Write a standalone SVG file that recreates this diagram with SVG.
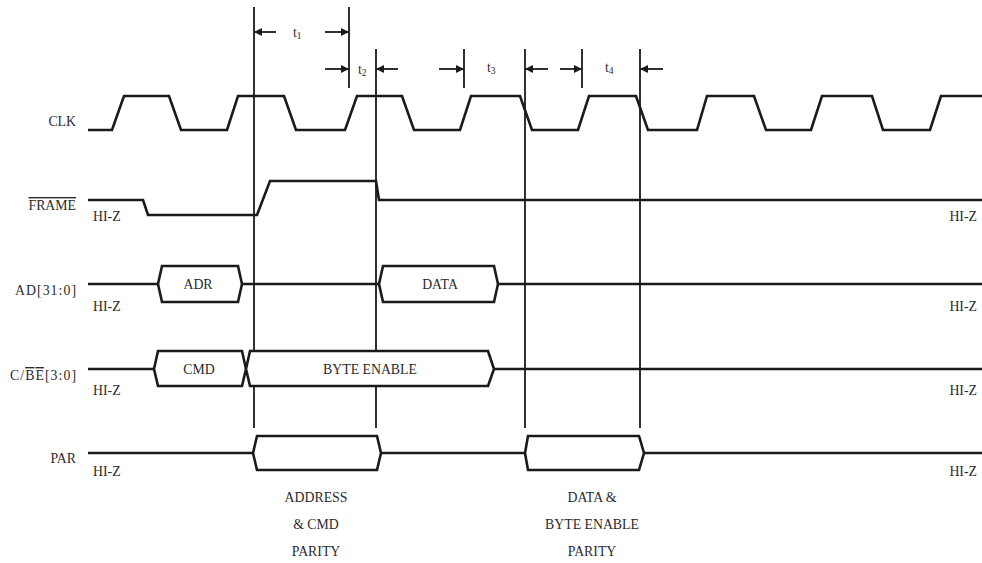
<svg xmlns="http://www.w3.org/2000/svg" width="982" height="563" viewBox="0 0 982 563">
<style>
.sig{fill:none;stroke:#1a1a1a;stroke-width:2.6;stroke-linejoin:miter}
.bus{fill:#fff;stroke:#1a1a1a;stroke-width:2.6;stroke-linejoin:miter}
.vl{stroke:#1a1a1a;stroke-width:1.8;fill:none}
.ar{stroke:#1a1a1a;stroke-width:1.8;fill:none;marker-end:url(#ah)}
text{font-family:"Liberation Serif","DejaVu Serif",serif;fill:#2b2b2b;font-size:13.8px}
.r{text-anchor:end}
.m{text-anchor:middle}
.ov{text-decoration:overline}
</style>
<defs>
<marker id="ah" viewBox="0 0 10 10" refX="10" refY="5" markerWidth="9" markerHeight="8" markerUnits="userSpaceOnUse" orient="auto">
<path d="M0,0 L10,5 L0,10 z" fill="#1a1a1a"/>
</marker>
</defs>
<rect width="982" height="563" fill="#fff"/>

<g id="connectors">
<line class="vl" x1="254" y1="7" x2="254" y2="428"/>
<line class="vl" x1="349" y1="7" x2="349" y2="88"/>
<line class="vl" x1="376" y1="49" x2="376" y2="428"/>
<line class="vl" x1="464" y1="49" x2="464" y2="88"/>
<line class="vl" x1="525" y1="49" x2="525" y2="428"/>
<line class="vl" x1="582" y1="49" x2="582" y2="88"/>
<line class="vl" x1="640" y1="49" x2="640" y2="428"/>
<line class="ar" x1="276" y1="32" x2="254" y2="32"/>
<line class="ar" x1="325" y1="32" x2="349" y2="32"/>
<line class="ar" x1="325" y1="69" x2="349" y2="69"/>
<line class="ar" x1="398" y1="69" x2="376" y2="69"/>
<line class="ar" x1="439" y1="69" x2="464" y2="69"/>
<line class="ar" x1="548" y1="69" x2="525" y2="69"/>
<line class="ar" x1="560" y1="69" x2="582" y2="69"/>
<line class="ar" x1="663" y1="69" x2="640" y2="69"/>
</g>

<g id="timing-labels">
<text x="293" y="37" font-size="14.5">t<tspan font-size="9.5" dy="2">1</tspan></text>
<text x="358" y="74" font-size="14.5">t<tspan font-size="9.5" dy="2">2</tspan></text>
<text x="487" y="72" font-size="14.5">t<tspan font-size="9.5" dy="2">3</tspan></text>
<text x="605" y="72" font-size="14.5">t<tspan font-size="9.5" dy="2">4</tspan></text>
</g>

<g id="clk">
<text class="r" x="76" y="126">CLK</text>
<path class="sig" d="M88,130 H112 L124,96 H169 L181,130 H227 L238,96 H284 L296,130 H345 L357,96 H402 L414,130 H460 L471,96 H520 L532,130 H578 L589,96 H636 L648,130 H697 L707,96 H754 L766,130 H811 L822,96 H872 L883,130 H930 L941,96 H982"/>
</g>

<g id="frame">
<text class="r" x="76" y="210"><tspan class="ov">FRAME</tspan></text>
<text x="93" y="221">HI-Z</text>
<text class="r" x="977" y="221">HI-Z</text>
<path class="sig" d="M88,200 H143 L148,215 H257 L270,181 H376 L379,200 H982"/>
</g>

<g id="ad">
<text class="r" x="76" y="295" textLength="61" lengthAdjust="spacing">AD[31:0]</text>
<text x="93" y="311">HI-Z</text>
<text class="r" x="977" y="311">HI-Z</text>
<path class="sig" d="M88,284 H158 M242,284 H379 M498,284 H982"/>
<path class="bus" d="M158,284 L162,266 H238 L242,284 L238,302 H162 Z"/>
<text class="m" x="198" y="289">ADR</text>
<path class="bus" d="M379,284 L383,266 H494 L498,284 L494,302 H383 Z"/>
<text class="m" x="440" y="289">DATA</text>
</g>

<g id="cbe">
<text class="r" x="76" y="380" textLength="66" lengthAdjust="spacing">C/<tspan class="ov">BE</tspan>[3:0]</text>
<text x="93" y="395">HI-Z</text>
<text class="r" x="977" y="395">HI-Z</text>
<path class="sig" d="M88,369 H154 M494,369 H982"/>
<path class="bus" d="M154,369 L158,351 H242 L246,369 L242,386 H158 Z"/>
<text class="m" x="199" y="374">CMD</text>
<path class="bus" d="M246,369 L250,351 H488 L494,369 L488,386 H250 Z"/>
<text class="m" x="370" y="374">BYTE ENABLE</text>
</g>

<g id="par">
<text class="r" x="76" y="463">PAR</text>
<text x="93" y="476">HI-Z</text>
<text class="r" x="977" y="476">HI-Z</text>
<path class="sig" d="M88,453 H253 M381,453 H525 M644,453 H982"/>
<path class="bus" d="M253,453 L257,436 H377 L381,453 L377,470 H257 Z"/>
<path class="bus" d="M525,453 L528,436 H639 L644,453 L639,470 H528 Z"/>
</g>

<g id="par-labels">
<text class="m" x="316" y="502">ADDRESS</text>
<text class="m" x="316" y="529">&amp; CMD</text>
<text class="m" x="316" y="556">PARITY</text>
<text class="m" x="592" y="502">DATA &amp;</text>
<text class="m" x="592" y="529">BYTE ENABLE</text>
<text class="m" x="592" y="556">PARITY</text>
</g>
</svg>
